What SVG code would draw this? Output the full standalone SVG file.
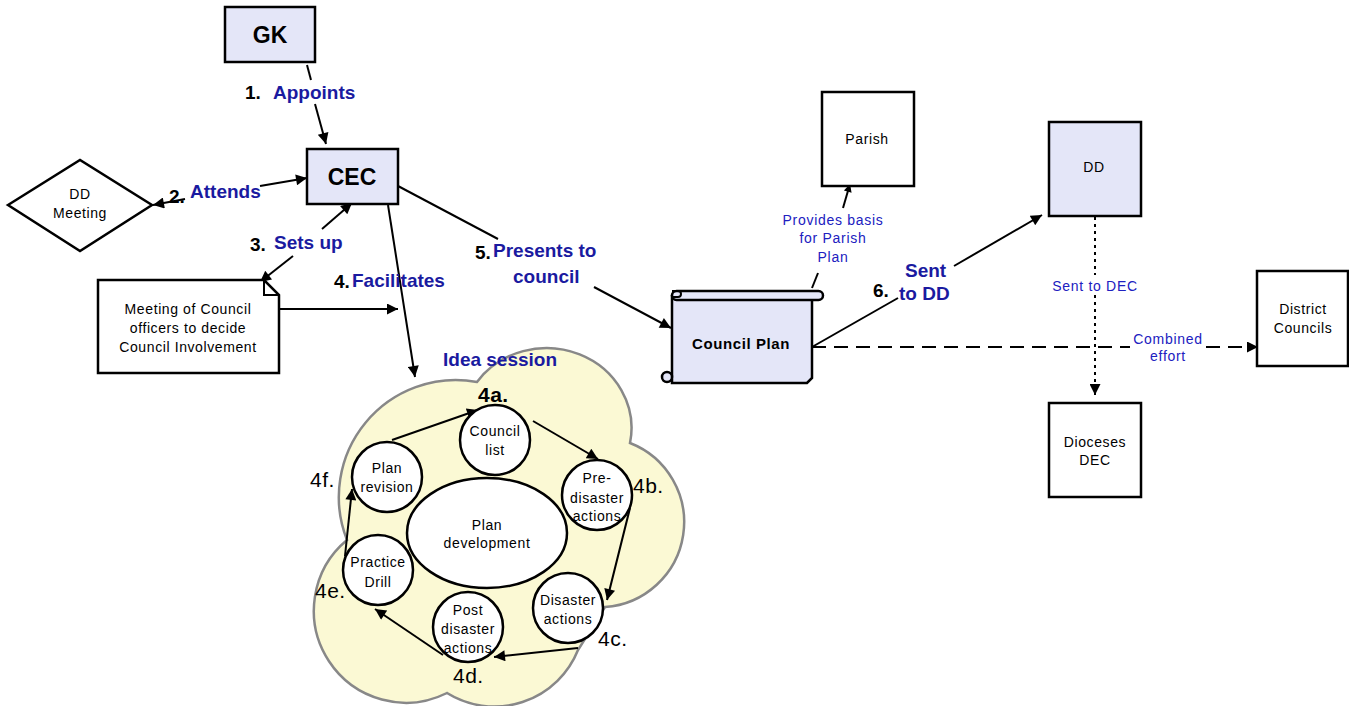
<svg xmlns="http://www.w3.org/2000/svg" width="1349" height="706" viewBox="0 0 1349 706">
<style>
text{font-family:"Liberation Sans",Arial,sans-serif;}
.box{fill:#fff;stroke:#000;stroke-width:2.5;}
.lav{fill:#e4e6f8;stroke:#000;stroke-width:2.5;}
.big{font-size:23px;font-weight:bold;text-anchor:middle;fill:#000;}
.sm{font-size:14px;text-anchor:middle;fill:#000;letter-spacing:0.6px;}
.num{font-size:19px;font-weight:bold;fill:#000;}
.lbl{font-size:19px;font-weight:bold;fill:#1a1aa0;}
.blue{font-size:14px;fill:#2020c0;text-anchor:middle;letter-spacing:0.7px;}
.step{font-size:21px;fill:#000;letter-spacing:0.5px;}
.ln{stroke:#000;stroke-width:2;fill:none;}
.circ{fill:#fff;stroke:#000;stroke-width:2.5;}
</style>
<defs>
<marker id="ah" viewBox="0 0 10 10" refX="10" refY="5" markerWidth="15" markerHeight="11" markerUnits="userSpaceOnUse" orient="auto"><path d="M0,0 L10,5 L0,10 z" fill="#000"/></marker>
<marker id="ahs" viewBox="0 0 10 10" refX="10" refY="5" markerWidth="12" markerHeight="8" markerUnits="userSpaceOnUse" orient="auto"><path d="M0,0 L10,5 L0,10 z" fill="#000"/></marker>
</defs>

<!-- Idea session cloud -->
<g id="idea-session">
<path d="M477,382 A85,80 0 0 1 630,443 A85,85 0 0 1 605,607 L578,650 A90,90 0 0 1 447,693 A92,92 0 0 1 347,540 A117,117 0 0 1 477,382 Z" fill="#fbf9d4" stroke="#888" stroke-width="2.5"/>
<text x="443" y="366" class="lbl">Idea session</text>
</g>

<g id="connectors">
<!-- 1 Appoints -->
<line x1="307" y1="65" x2="311" y2="80" class="ln"/>
<line x1="315" y1="104" x2="326" y2="144" class="ln" marker-end="url(#ah)"/>
<!-- 2 Attends -->
<line x1="260" y1="186" x2="307" y2="178" class="ln" marker-end="url(#ah)"/>
<line x1="185" y1="199" x2="153" y2="205" class="ln" marker-end="url(#ah)"/>
<!-- 3 Sets up -->
<line x1="322" y1="229" x2="352" y2="203" class="ln" marker-end="url(#ah)"/>
<line x1="293" y1="256" x2="260" y2="282" class="ln" marker-end="url(#ah)"/>
<!-- Meeting to facilitates -->
<line x1="279" y1="309" x2="398" y2="309" class="ln" marker-end="url(#ah)"/>
<!-- 4 Facilitates -->
<line x1="388" y1="205" x2="415" y2="377" class="ln" marker-end="url(#ah)"/>
<!-- 5 Presents -->
<line x1="398" y1="186" x2="498" y2="239" class="ln"/>
<line x1="594" y1="287" x2="671" y2="328" class="ln" marker-end="url(#ah)"/>
<!-- Provides basis -->
<line x1="812" y1="288" x2="818" y2="273" class="ln"/>
<line x1="843" y1="208" x2="850" y2="184" class="ln" marker-end="url(#ahs)"/>
<!-- 6 Sent to DD -->
<line x1="812" y1="347" x2="898" y2="298" class="ln"/>
<line x1="954" y1="266" x2="1042" y2="215" class="ln" marker-end="url(#ah)"/>
<!-- Combined effort -->
<line x1="812" y1="347" x2="1130" y2="347" class="ln" stroke-dasharray="14,8"/>
<line x1="1206" y1="347" x2="1258" y2="347" class="ln" stroke-dasharray="14,8" marker-end="url(#ah)"/>
<!-- Sent to DEC -->
<line x1="1095" y1="217" x2="1095" y2="275" class="ln" stroke-dasharray="3,4" stroke-width="2.5"/>
<line x1="1095" y1="295" x2="1095" y2="395" class="ln" stroke-dasharray="3,4" stroke-width="2.5" marker-end="url(#ah)"/>
<!-- cycle -->
<line x1="392" y1="440" x2="478" y2="410" class="ln" marker-end="url(#ah)"/>
<line x1="533" y1="421" x2="598" y2="459" class="ln" marker-end="url(#ah)"/>
<line x1="630" y1="508" x2="607" y2="600" class="ln" marker-end="url(#ah)"/>
<line x1="578" y1="648" x2="494" y2="657" class="ln" marker-end="url(#ah)"/>
<line x1="443" y1="655" x2="375" y2="609" class="ln" marker-end="url(#ah)"/>
<line x1="345" y1="556" x2="352" y2="489" class="ln" marker-end="url(#ah)"/>
</g>

<g id="labels">
<text x="245" y="99" class="num">1.</text>
<text x="273" y="99" class="lbl">Appoints</text>
<text x="169" y="203" class="num">2.</text>
<text x="190" y="198" class="lbl">Attends</text>
<text x="250" y="251" class="num">3.</text>
<text x="274" y="249" class="lbl">Sets up</text>
<text x="334" y="288" class="num">4.</text>
<text x="352" y="287" class="lbl">Facilitates</text>
<text x="475" y="259" class="num">5.</text>
<text x="493" y="257" class="lbl">Presents to</text>
<text x="513" y="283" class="lbl">council</text>
<text x="833" y="225" class="blue">Provides basis</text>
<text x="833" y="243" class="blue">for Parish</text>
<text x="833" y="262" class="blue">Plan</text>
<text x="873" y="297" class="num">6.</text>
<text x="905" y="277" class="lbl">Sent</text>
<text x="899" y="300" class="lbl">to DD</text>
<text x="1095" y="291" class="blue">Sent to DEC</text>
<text x="1168" y="344" class="blue">Combined</text>
<text x="1168" y="361" class="blue">effort</text>
</g>

<g id="gk"><rect x="225" y="7" width="90" height="55" class="lav"/><text x="270" y="43" class="big">GK</text></g>
<g id="cec"><rect x="307" y="149" width="91" height="55" class="lav"/><text x="352" y="185" class="big">CEC</text></g>
<g id="dd-meeting"><path d="M8,205 L80,160 L152,205 L80,251 Z" class="box"/><text x="80" y="199" class="sm">DD</text><text x="80" y="218" class="sm">Meeting</text></g>
<g id="meeting-council">
<path d="M98,280 L264,280 L279,295 L279,373 L98,373 Z" class="box"/>
<path d="M264,280 L264,295 L279,295" fill="none" stroke="#000" stroke-width="2"/>
<text x="188" y="314" class="sm">Meeting of Council</text>
<text x="188" y="333" class="sm">officers to decide</text>
<text x="188" y="352" class="sm">Council Involvement</text>
</g>
<g id="council-plan">
<path d="M672,296 L812,296 L812,378 L807,383 L672,383 Z" class="lav"/>
<rect x="672" y="291" width="151" height="9" rx="4.5" class="lav"/>
<path d="M672,291 L678,291 A3,3 0 0 1 678,297 L672,297" fill="none" stroke="#000" stroke-width="2"/>
<circle cx="667" cy="377" r="5" class="lav"/>
<text x="741" y="349" style="font-size:15px;font-weight:bold;text-anchor:middle;letter-spacing:0.6px;">Council Plan</text>
</g>
<g id="parish"><rect x="822" y="92" width="92" height="94" class="box"/><text x="867" y="144" class="sm">Parish</text></g>
<g id="dd"><rect x="1049" y="122" width="92" height="94" class="lav"/><text x="1094" y="172" class="sm">DD</text></g>
<g id="district-councils"><rect x="1257" y="271" width="91" height="95" class="box"/><text x="1303" y="314" class="sm">District</text><text x="1303" y="333" class="sm">Councils</text></g>
<g id="dioceses-dec"><rect x="1049" y="403" width="92" height="94" class="box"/><text x="1095" y="447" class="sm">Dioceses</text><text x="1095" y="465" class="sm">DEC</text></g>

<g id="plan-development"><ellipse cx="487" cy="533" rx="80" ry="55" class="circ"/><text x="487" y="530" class="sm">Plan</text><text x="487" y="548" class="sm">development</text></g>
<g id="council-list"><circle cx="495" cy="440" r="35" class="circ"/><text x="495" y="436" class="sm">Council</text><text x="495" y="455" class="sm">list</text></g>
<g id="pre-disaster"><circle cx="597" cy="495" r="35" class="circ"/><text x="597" y="483" class="sm">Pre-</text><text x="597" y="503" class="sm">disaster</text><text x="597" y="521" class="sm">actions</text></g>
<g id="disaster"><circle cx="568" cy="608" r="35" class="circ"/><text x="568" y="605" class="sm">Disaster</text><text x="568" y="624" class="sm">actions</text></g>
<g id="post-disaster"><circle cx="468" cy="627" r="35" class="circ"/><text x="468" y="615" class="sm">Post</text><text x="468" y="634" class="sm">disaster</text><text x="468" y="653" class="sm">actions</text></g>
<g id="practice-drill"><circle cx="378" cy="570" r="35" class="circ"/><text x="378" y="567" class="sm">Practice</text><text x="378" y="587" class="sm">Drill</text></g>
<g id="plan-revision"><circle cx="387" cy="477" r="35" class="circ"/><text x="387" y="473" class="sm">Plan</text><text x="387" y="492" class="sm">revision</text></g>

<g id="step-labels">
<text x="478" y="402" class="step" style="font-weight:bold">4a.</text>
<text x="633" y="493" class="step">4b.</text>
<text x="598" y="646" class="step">4c.</text>
<text x="453" y="683" class="step">4d.</text>
<text x="315" y="598" class="step">4e.</text>
<text x="310" y="487" class="step">4f.</text>
</g>
</svg>
